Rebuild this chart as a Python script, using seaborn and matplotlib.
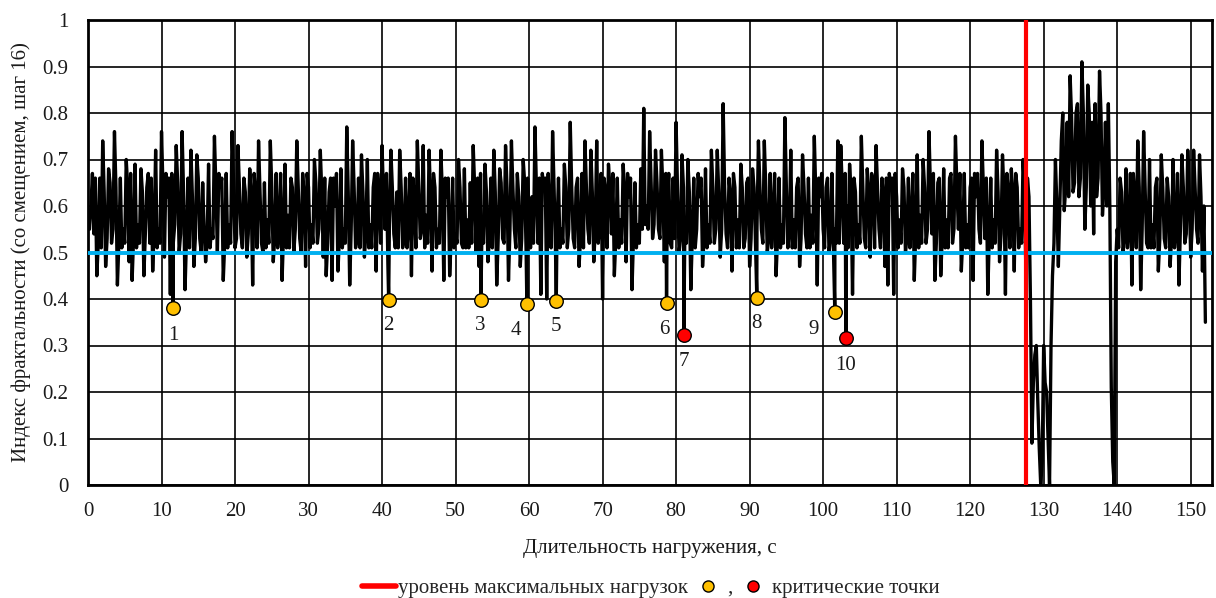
import numpy as np
import pandas as pd
import matplotlib
matplotlib.use("Agg")
import matplotlib.pyplot as plt
import seaborn as sns
from matplotlib.lines import Line2D

# индекс фрактальности, участки по 20 с (шаг 0.2 с)
fi_000_020 = [0.55, 0.60, 0.67, 0.54, 0.66, 0.45, 0.52, 0.66, 0.51, 0.74,
              0.63, 0.47, 0.53, 0.68, 0.65, 0.52, 0.55, 0.76, 0.64, 0.43,
              0.52, 0.66, 0.51, 0.55, 0.52, 0.70, 0.64, 0.48, 0.67, 0.44,
              0.53, 0.69, 0.51, 0.56, 0.52, 0.68, 0.63, 0.45, 0.54, 0.64,
              0.67, 0.52, 0.66, 0.46, 0.55, 0.72, 0.51, 0.55, 0.52, 0.76,
              0.64, 0.49, 0.67, 0.62, 0.66, 0.41, 0.67, 0.52, 0.56, 0.73,
              0.65, 0.50, 0.54, 0.76, 0.63, 0.42, 0.53, 0.66, 0.51, 0.72,
              0.62, 0.47, 0.53, 0.71, 0.66, 0.53, 0.50, 0.65, 0.55, 0.48,
              0.52, 0.69, 0.51, 0.55, 0.53, 0.75, 0.64, 0.50, 0.67, 0.64,
              0.66, 0.44, 0.52, 0.67, 0.51, 0.56, 0.52, 0.76, 0.65, 0.51]
fi_020_040 = [0.53, 0.73, 0.64, 0.54, 0.51, 0.66, 0.63, 0.49, 0.54, 0.68,
              0.62, 0.43, 0.67, 0.62, 0.51, 0.74, 0.63, 0.52, 0.50, 0.65,
              0.51, 0.57, 0.52, 0.74, 0.64, 0.48, 0.53, 0.67, 0.51, 0.55,
              0.67, 0.44, 0.54, 0.69, 0.51, 0.58, 0.51, 0.66, 0.64, 0.50,
              0.55, 0.74, 0.64, 0.53, 0.50, 0.67, 0.62, 0.47, 0.67, 0.64,
              0.51, 0.56, 0.52, 0.70, 0.65, 0.52, 0.55, 0.72, 0.63, 0.49,
              0.66, 0.45, 0.52, 0.63, 0.66, 0.44, 0.66, 0.60, 0.67, 0.46,
              0.53, 0.68, 0.51, 0.55, 0.52, 0.77, 0.63, 0.43, 0.55, 0.74,
              0.64, 0.51, 0.53, 0.66, 0.51, 0.71, 0.63, 0.49, 0.54, 0.70,
              0.51, 0.56, 0.51, 0.64, 0.67, 0.46, 0.67, 0.62, 0.52, 0.73]
fi_040_060 = [0.62, 0.55, 0.67, 0.47, 0.56, 0.72, 0.64, 0.54, 0.51, 0.63,
              0.51, 0.72, 0.64, 0.51, 0.53, 0.66, 0.51, 0.56, 0.67, 0.45,
              0.66, 0.61, 0.51, 0.74, 0.64, 0.53, 0.55, 0.73, 0.51, 0.58,
              0.52, 0.72, 0.62, 0.46, 0.67, 0.64, 0.51, 0.55, 0.52, 0.72,
              0.63, 0.44, 0.66, 0.62, 0.66, 0.45, 0.53, 0.66, 0.51, 0.54,
              0.52, 0.70, 0.64, 0.52, 0.51, 0.68, 0.51, 0.57, 0.51, 0.65,
              0.52, 0.73, 0.64, 0.50, 0.66, 0.47, 0.67, 0.56, 0.52, 0.69,
              0.63, 0.48, 0.53, 0.66, 0.51, 0.72, 0.63, 0.43, 0.53, 0.68,
              0.65, 0.53, 0.52, 0.73, 0.64, 0.44, 0.55, 0.74, 0.64, 0.55,
              0.51, 0.67, 0.62, 0.47, 0.53, 0.70, 0.65, 0.50, 0.66, 0.58]
fi_060_080 = [0.51, 0.62, 0.52, 0.77, 0.64, 0.52, 0.66, 0.41, 0.67, 0.64,
              0.66, 0.40, 0.67, 0.58, 0.51, 0.76, 0.64, 0.50, 0.55, 0.66,
              0.51, 0.55, 0.52, 0.69, 0.64, 0.51, 0.55, 0.78, 0.64, 0.53,
              0.51, 0.64, 0.66, 0.47, 0.53, 0.67, 0.51, 0.74, 0.64, 0.55,
              0.52, 0.72, 0.63, 0.48, 0.55, 0.74, 0.52, 0.56, 0.67, 0.40,
              0.66, 0.63, 0.51, 0.69, 0.64, 0.54, 0.67, 0.45, 0.53, 0.66,
              0.51, 0.57, 0.52, 0.69, 0.63, 0.48, 0.67, 0.62, 0.66, 0.42,
              0.53, 0.65, 0.51, 0.56, 0.52, 0.68, 0.55, 0.81, 0.56, 0.60,
              0.55, 0.76, 0.65, 0.53, 0.56, 0.72, 0.65, 0.55, 0.53, 0.72,
              0.64, 0.48, 0.67, 0.60, 0.67, 0.52, 0.51, 0.66, 0.53, 0.78]
fi_080_100 = [0.63, 0.50, 0.53, 0.71, 0.64, 0.56, 0.52, 0.70, 0.63, 0.42,
              0.53, 0.66, 0.51, 0.55, 0.67, 0.62, 0.66, 0.47, 0.53, 0.68,
              0.51, 0.56, 0.52, 0.72, 0.64, 0.52, 0.55, 0.72, 0.63, 0.49,
              0.55, 0.82, 0.64, 0.54, 0.51, 0.66, 0.62, 0.46, 0.67, 0.64,
              0.51, 0.57, 0.51, 0.69, 0.64, 0.51, 0.53, 0.65, 0.66, 0.47,
              0.53, 0.68, 0.64, 0.52, 0.55, 0.74, 0.64, 0.55, 0.52, 0.74,
              0.64, 0.50, 0.53, 0.67, 0.51, 0.58, 0.67, 0.45, 0.53, 0.66,
              0.51, 0.56, 0.52, 0.79, 0.64, 0.51, 0.54, 0.72, 0.51, 0.57,
              0.51, 0.64, 0.66, 0.47, 0.53, 0.71, 0.64, 0.54, 0.51, 0.66,
              0.51, 0.58, 0.52, 0.75, 0.63, 0.43, 0.66, 0.62, 0.67, 0.55]
fi_100_120 = [0.51, 0.64, 0.66, 0.50, 0.53, 0.67, 0.51, 0.55, 0.52, 0.74,
              0.52, 0.73, 0.64, 0.52, 0.67, 0.60, 0.51, 0.69, 0.63, 0.41,
              0.66, 0.63, 0.51, 0.56, 0.52, 0.75, 0.64, 0.53, 0.51, 0.68,
              0.63, 0.49, 0.67, 0.65, 0.51, 0.73, 0.64, 0.55, 0.51, 0.66,
              0.62, 0.47, 0.66, 0.43, 0.67, 0.64, 0.66, 0.41, 0.67, 0.62,
              0.51, 0.57, 0.52, 0.68, 0.64, 0.50, 0.53, 0.66, 0.51, 0.56,
              0.67, 0.44, 0.54, 0.71, 0.51, 0.58, 0.52, 0.70, 0.64, 0.52,
              0.55, 0.76, 0.64, 0.54, 0.67, 0.44, 0.52, 0.65, 0.66, 0.45,
              0.53, 0.68, 0.51, 0.57, 0.51, 0.66, 0.67, 0.52, 0.55, 0.75,
              0.64, 0.55, 0.67, 0.46, 0.53, 0.67, 0.51, 0.56, 0.51, 0.64]
fi_120_140 = [0.66, 0.44, 0.67, 0.62, 0.67, 0.55, 0.52, 0.74, 0.64, 0.53,
              0.66, 0.41, 0.53, 0.66, 0.51, 0.57, 0.52, 0.72, 0.63, 0.48,
              0.54, 0.71, 0.63, 0.41, 0.67, 0.63, 0.51, 0.68, 0.63, 0.46,
              0.67, 0.64, 0.51, 0.55, 0.52, 0.70, 0.63, 0.44, 0.66, 0.62,
              0.40, 0.09, 0.22, 0.28, 0.30, 0.18, 0.08, 0.00, 0.05, 0.30,
              0.22, 0.20, 0.10, 0.00, 0.30, 0.45, 0.52, 0.70, 0.60, 0.47,
              0.60, 0.74, 0.80, 0.59, 0.64, 0.78, 0.62, 0.88, 0.79, 0.63,
              0.65, 0.80, 0.82, 0.62, 0.66, 0.91, 0.80, 0.55, 0.64, 0.86,
              0.80, 0.60, 0.78, 0.54, 0.82, 0.62, 0.66, 0.89, 0.80, 0.58,
              0.64, 0.78, 0.60, 0.82, 0.60, 0.21, 0.05, 0.00, 0.48, 0.55]
fi_140_152 = [0.51, 0.66, 0.63, 0.50, 0.53, 0.68, 0.51, 0.55, 0.67, 0.43,
              0.67, 0.62, 0.51, 0.74, 0.64, 0.42, 0.55, 0.76, 0.64, 0.52,
              0.51, 0.70, 0.51, 0.56, 0.51, 0.64, 0.66, 0.46, 0.53, 0.71,
              0.64, 0.53, 0.51, 0.66, 0.62, 0.47, 0.53, 0.70, 0.51, 0.55,
              0.67, 0.43, 0.55, 0.71, 0.64, 0.52, 0.54, 0.72, 0.63, 0.49,
              0.55, 0.72, 0.64, 0.55, 0.52, 0.71, 0.62, 0.46, 0.60, 0.35]

segments = [fi_000_020, fi_020_040, fi_040_060, fi_060_080,
            fi_080_100, fi_100_120, fi_120_140, fi_140_152]
seg_bounds = [0, 20, 40, 60, 80, 100, 120, 140, 152]

max_load_t = 127.6   # уровень максимальных нагрузок
fi_level = 0.5

# отмеченные точки
point_t = [11.56, 40.9, 53.45, 59.7, 63.7, 78.7, 81.05, 90.98, 101.59, 103.09]
point_fi = [0.381, 0.398, 0.398, 0.389, 0.396, 0.391, 0.323, 0.402, 0.372, 0.316]
point_no = ["1", "2", "3", "4", "5", "6", "7", "8", "9", "10"]
point_critical = [False, False, False, False, False, False, True, False, False, True]

# сдвиг подписей от точки, пиксели
label_dx = [0, 0, -1, -11, 0, -2, 0, 0, -21, 0]
label_dy = [-28, -26, -26, -26, -26, -26, -27, -25, -17, -27]

t_all = []
fi_all = []
for i, seg in enumerate(segments):
    t_seg = np.linspace(seg_bounds[i], seg_bounds[i + 1], len(seg) + 1)[1:]
    t_all.extend(t_seg)
    fi_all.extend(seg)

df = pd.DataFrame({"t": t_all + point_t, "fi": fi_all + point_fi})
df = df.sort_values("t", kind="mergesort").reset_index(drop=True)

pts = pd.DataFrame({"t": point_t, "fi": point_fi, "no": point_no,
                    "crit": point_critical})

sns.set_theme(style="white")
plt.rcParams["font.family"] = ["Liberation Serif", "DejaVu Serif"]
plt.rcParams["path.simplify"] = False

fig = plt.figure(figsize=(12.16, 5.98), dpi=100)
ax = fig.add_axes([88 / 1216, 1 - 485 / 598, 1124 / 1216, 465 / 598])

sns.lineplot(data=df, x="t", y="fi", estimator=None, sort=False,
             color="black", linewidth=2.4, ax=ax, zorder=3)
ax.axhline(fi_level, color="#00B0F0", lw=2.8, zorder=4)
ax.axvline(max_load_t, color="#FF0000", lw=3.0, zorder=5)

normal = pts[~pts["crit"]]
crit = pts[pts["crit"]]
sns.scatterplot(data=normal, x="t", y="fi", color="#FFC000", s=95,
                edgecolor="black", linewidth=1.0, ax=ax, zorder=6)
sns.scatterplot(data=crit, x="t", y="fi", color="#FF0000", s=95,
                edgecolor="black", linewidth=1.0, ax=ax, zorder=6)

for i, row in pts.iterrows():
    ax.annotate(row["no"], (row["t"], row["fi"]),
                xytext=(label_dx[i], label_dy[i]), textcoords="offset pixels",
                ha="center", va="center", fontsize=15, color="#1a1a1a", zorder=7)

ax.set_xlim(0, 152.9)
ax.set_ylim(0, 1)
ax.set_xticks(np.arange(0, 151, 10))
yt = np.round(np.arange(0, 1.01, 0.1), 1)
ax.set_yticks(yt)
ax.set_yticklabels([f"{v:g}" for v in yt])
ax.grid(True, color="black", lw=1.2)
ax.set_axisbelow(True)
for sp in ax.spines.values():
    sp.set_color("black")
    sp.set_linewidth(2.0)
ax.tick_params(axis="both", direction="out", length=5, width=1.0,
               color="black", labelsize=15, labelcolor="#1a1a1a", pad=4)
ax.tick_params(axis="x", pad=7)
ax.tick_params(axis="y", pad=9)

ax.set_xlabel("Длительность нагружения, с", fontsize=15, color="#1a1a1a",
              labelpad=13)
ax.set_ylabel("Индекс фрактальности (со смещением, шаг 16)", fontsize=15,
              color="#1a1a1a", labelpad=8)

handles = [
    Line2D([], [], color="#FF0000", lw=4),
    Line2D([], [], marker="o", ls="none", markerfacecolor="#FFC000",
           markeredgecolor="black", markersize=8),
    Line2D([], [], marker="o", ls="none", markerfacecolor="#FF0000",
           markeredgecolor="black", markersize=8),
]
fig.legend(handles, ["уровень максимальных нагрузок", ",", "критические точки"],
           loc="center", bbox_to_anchor=(651 / 1216, 1 - 588 / 598), ncol=3,
           frameon=False, fontsize=15, handlelength=1.6, handletextpad=0.1,
           columnspacing=0.2, borderpad=0)

fig.savefig("out.png", dpi=100)
